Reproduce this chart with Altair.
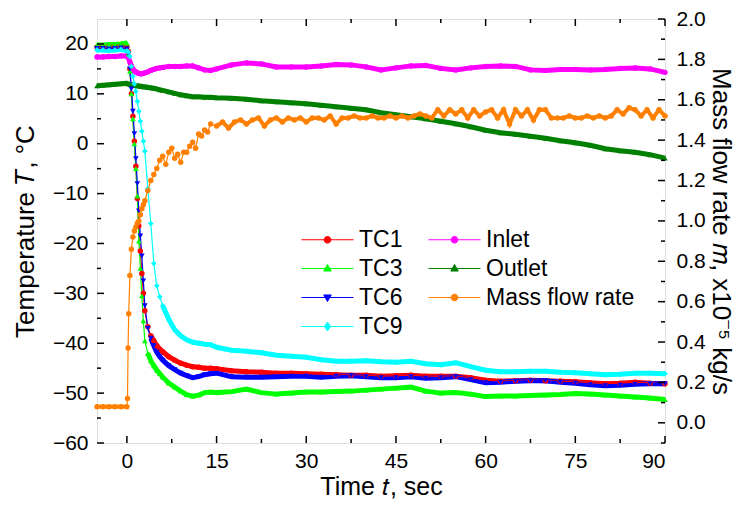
import altair as alt
import pandas as pd

# ---------------- data ----------------
t_grid = [-5, -4, -3, -2, -1, 0, 0.25, 0.5, 0.75, 1, 1.25, 1.5, 1.75, 2, 2.25, 2.5, 2.75, 3,
          3.5, 4, 4.5, 5, 5.5, 6, 7, 8, 9, 10, 11, 12, 13, 14, 15,
          17.5, 20, 22.5, 25, 27.5, 30, 32.5, 35, 37.5, 40, 42.5, 45, 47.5, 50, 52.5, 55,
          57.5, 60, 62.5, 65, 67.5, 70, 72.5, 75, 77.5, 80, 82.5, 85, 87.5, 90]

tc1 = [19.4, 19.4, 19.5, 19.5, 19.6, 19.4, 18.5, 15.0, 10.0, 5.5, 0.5, -4.5, -11.0, -16.5, -21.5, -26.0, -30.0, -33.5,
       -36.7, -38.5, -39.5, -40.5, -41.2, -41.7, -42.7, -43.4, -44.0, -44.4, -44.7, -44.8, -45.0, -45.0, -45.1,
       -45.5, -45.7, -45.8, -46.0, -46.0, -46.1, -46.2, -46.3, -46.4, -46.4, -46.6, -46.5, -46.4, -46.6, -46.6, -46.6,
       -46.9, -47.4, -47.6, -47.5, -47.4, -47.5, -47.6, -47.7, -47.9, -48.1, -48.0, -47.8, -48.0, -48.1]
tc3 = [19.8, 19.8, 19.9, 19.9, 20.0, 20.2, 18.0, 14.5, 10.0, 5.0, 0.0, -5.0, -10.5, -19.5, -25.0, -30.5, -35.5, -39.5,
       -42.0, -43.5, -44.5, -45.4, -46.1, -46.8, -48.0, -48.8, -49.6, -50.3, -50.6, -50.4, -49.9, -49.8, -49.9,
       -49.7, -49.2, -49.9, -50.2, -50.0, -49.8, -49.8, -49.7, -49.6, -49.4, -49.2, -49.0, -48.8, -49.6, -50.0, -49.9,
       -50.2, -50.7, -50.6, -50.6, -50.5, -50.4, -50.3, -50.1, -50.2, -50.4, -50.6, -50.8, -51.0, -51.3]
tc6 = [19.1, 19.1, 19.0, 19.1, 19.2, 19.0, 18.0, 15.0, 11.0, 6.5, 2.0, -3.0, -8.0, -13.5, -18.5, -22.5, -27.5, -32.5,
       -37.0, -39.0, -40.5, -41.8, -42.7, -43.4, -44.5, -45.3, -46.0, -46.5, -46.9, -46.7, -46.3, -46.1, -46.0,
       -46.7, -46.8, -46.8, -46.7, -46.6, -46.6, -46.8, -46.6, -46.5, -46.7, -46.9, -46.9, -46.7, -47.0, -46.9, -46.7,
       -47.3, -47.9, -47.8, -47.6, -47.5, -47.5, -47.8, -48.0, -48.3, -48.5, -48.4, -48.2, -48.1, -48.1]
tc9 = [18.8, 18.8, 18.7, 18.8, 18.9, 18.6, 18.4, 17.5, 15.5, 13.5, 12.0, 10.5, 8.5, 6.5, 4.5, 2.5, 0.5, -1.5,
       -9.0, -16.0, -24.0, -28.5, -30.7, -32.5, -35.2, -37.3, -38.5, -39.3, -39.8, -40.0, -40.2, -40.3, -40.8,
       -41.4, -41.6, -41.9, -42.4, -42.6, -42.8, -43.3, -43.6, -43.6, -43.5, -43.7, -43.8, -43.6, -44.1, -44.3, -43.9,
       -44.7, -45.4, -45.7, -45.7, -45.6, -45.6, -45.8, -45.9, -46.1, -46.3, -46.2, -46.0, -46.0, -46.1]
inlet = [17.4, 17.4, 17.5, 17.5, 17.6, 17.6, 17.2, 16.4, 15.6, 15.0, 14.6, 14.4, 14.2, 14.1, 14.0, 14.0, 14.1, 14.2,
         14.4, 14.7, 14.9, 15.1, 15.2, 15.3, 15.5, 15.5, 15.5, 15.6, 15.6, 15.2, 14.8, 14.7, 15.0,
         15.8, 16.2, 16.0, 15.4, 15.4, 15.4, 15.6, 15.9, 15.8, 15.4, 14.8, 15.2, 15.6, 15.7, 15.1, 14.8,
         15.2, 15.5, 15.6, 15.5, 14.8, 14.7, 14.9, 14.9, 14.8, 14.9, 15.1, 15.2, 15.0, 14.3]
outlet = [11.6, 11.7, 11.8, 11.9, 12.0, 12.1, 12.0, 11.9, 11.8, 11.8, 11.7, 11.7, 11.6, 11.6, 11.5, 11.5, 11.4, 11.4,
          11.3, 11.2, 11.1, 11.0, 10.8, 10.7, 10.4, 10.1, 9.8, 9.6, 9.4, 9.4, 9.3, 9.3, 9.2,
          9.1, 8.9, 8.6, 8.4, 8.2, 8.0, 7.7, 7.4, 7.1, 6.8, 6.2, 5.8, 5.4, 5.0, 4.5, 4.0,
          3.4, 2.7, 2.2, 1.9, 1.5, 1.1, 0.6, 0.2, -0.3, -1.0, -1.4, -1.7, -2.2, -2.9]

mass_t = [-5, -4, -3, -2, -1, 0, 0.1, 0.2, 0.3, 0.5, 0.75, 1, 1.25, 1.5, 1.75, 2, 2.25, 2.5, 2.75, 3,
          3.5, 4, 4.5, 5, 5.5, 6, 6.5, 7, 7.5, 8, 8.5, 9, 9.5, 10, 10.5, 11, 11.5, 12, 12.5, 13, 13.5, 14,
          15, 16, 17, 18, 19, 20, 21, 22, 23, 24, 25, 26, 27, 28, 29, 30, 31, 32, 33, 34, 35, 36, 37, 38,
          39, 40, 41, 42, 43, 44, 45, 46, 47, 48, 49, 50, 51, 52, 53, 54, 55, 56, 57, 58, 59, 60, 61, 62,
          63, 64, 65, 66, 67, 68, 69, 70, 71, 72, 73, 74, 75, 76, 77, 78, 79, 80, 81, 82, 83, 84, 85, 86,
          87, 88, 89, 90]
mass_v = [0.08, 0.08, 0.08, 0.08, 0.08, 0.08, 0.12, 0.37, 0.54, 0.73, 0.86, 0.92, 0.95, 0.97, 0.99, 1.00, 1.03,
          1.06, 1.08, 1.10, 1.15, 1.20, 1.23, 1.26, 1.30, 1.32, 1.28, 1.34, 1.36, 1.31, 1.33, 1.29, 1.34, 1.34,
          1.37, 1.39, 1.36, 1.43, 1.42, 1.45, 1.44, 1.48,
          1.47, 1.49, 1.46, 1.49, 1.50, 1.48, 1.50, 1.51, 1.47, 1.50, 1.51, 1.49, 1.51, 1.50, 1.51, 1.49, 1.51,
          1.51, 1.50, 1.52, 1.48, 1.51, 1.51, 1.52, 1.51, 1.51, 1.52, 1.51, 1.51, 1.52, 1.51, 1.52, 1.51, 1.52,
          1.53, 1.52, 1.51, 1.55, 1.52, 1.55, 1.53, 1.55, 1.51, 1.55, 1.52, 1.54, 1.55, 1.51, 1.55, 1.48, 1.55,
          1.52, 1.55, 1.50, 1.55, 1.55, 1.51, 1.51, 1.51, 1.52, 1.51, 1.51, 1.52, 1.51, 1.52, 1.51, 1.52, 1.55,
          1.53, 1.56, 1.55, 1.52, 1.55, 1.51, 1.55, 1.52]

temp_series = ["TC1", "TC3", "TC6", "TC9", "Inlet", "Outlet"]
temp_values = [tc1, tc3, tc6, tc9, inlet, outlet]
legend_order = ["TC1", "TC3", "TC6", "TC9", "Inlet", "Outlet", "Mass flow rate"]
series_colors = {"TC1": "#FF0000", "TC3": "#00FF00", "TC6": "#0000FF", "TC9": "#00FFFF",
                 "Inlet": "#FF00FF", "Outlet": "#008000", "Mass flow rate": "#FF8000"}

x_major = [0, 15, 30, 45, 60, 75, 90]
x_minor = [7.5, 22.5, 37.5, 52.5, 67.5, 82.5]
yl_major = [-60, -50, -40, -30, -20, -10, 0, 10, 20]
yl_minor = [-55, -45, -35, -25, -15, -5, 5, 15]
yr_major = [0.0, 0.2, 0.4, 0.6, 0.8, 1.0, 1.2, 1.4, 1.6, 1.8, 2.0]
yr_minor = [-0.1, 0.1, 0.3, 0.5, 0.7, 0.9, 1.1, 1.3, 1.5, 1.7, 1.9]

# ---------------- tables ----------------
rows = []
for name, vals in zip(temp_series, temp_values):
    for t, v in zip(t_grid, vals):
        rows.append({"t": t, "v": v, "series": name})
df = pd.DataFrame(rows)
dfm = pd.DataFrame({"t": mass_t, "m": mass_v, "series": "Mass flow rate"})
df_leg = pd.DataFrame({"series": legend_order})

# ---------------- style ----------------
W, H = 568, 424
FONT = "Liberation Sans"
xs = alt.Scale(domain=[-5, 90], nice=False, zero=False)
yl = alt.Scale(domain=[-60, 25], nice=False, zero=False)
yr = alt.Scale(domain=[-0.1, 2.0], nice=False, zero=False)
color_scale = alt.Scale(domain=legend_order, range=[series_colors[s] for s in legend_order])

leg_paths = {
    "circle": "M-3.25,0H3.25M0.42,0A0.42,0.42,0,1,1,-0.42,0A0.42,0.42,0,1,1,0.42,0Z",
    "up": "M-3.25,0H3.25M0,-0.5L0.47,0.32L-0.47,0.32Z",
    "down": "M-3.25,0H3.25M0,0.5L0.47,-0.32L-0.47,-0.32Z",
    "diamond": "M-3.25,0H3.25M0,-0.55L0.38,0L0,0.55L-0.38,0Z",
}
leg_shape_of = {"TC1": "circle", "Inlet": "circle", "TC3": "up", "Outlet": "up",
                "TC6": "down", "Mass flow rate": "circle", "TC9": "diamond"}
shape_scale = alt.Scale(domain=legend_order, range=[leg_paths[leg_shape_of[s]] for s in legend_order])

legend = alt.Legend(orient="none", legendX=219, legendY=209, columns=2, title=None,
                    symbolSize=256, symbolStrokeWidth=1, labelFont=FONT, labelFontSize=23,
                    labelColor="black", rowPadding=5, columnPadding=23, labelOffset=20,
                    padding=0, labelLimit=300)

x_axis = alt.Axis(values=x_major, ticks=False, domain=False, grid=False, labelFont=FONT,
                  labelFontSize=21, labelColor="black", labelPadding=7, title="Time 𝑡, sec",
                  titleFont=FONT, titleFontSize=25, titleFontWeight="normal", titleColor="black",
                  titlePadding=3)
yl_axis = alt.Axis(orient="left", values=yl_major, ticks=False, domain=False, grid=False,
                   labelFont=FONT, labelFontSize=21, labelColor="black", labelPadding=9,
                   title="Temperature 𝑇, °C", titleFont=FONT, titleFontSize=26,
                   titleFontWeight="normal", titleColor="black", titlePadding=14)
yr_axis = alt.Axis(orient="right", values=yr_major, format=".1f", ticks=False, domain=False,
                   grid=False, labelFont=FONT, labelFontSize=21, labelColor="black",
                   labelPadding=11, title="Mass flow rate 𝑚, x10⁻⁵ kg/s", titleFont=FONT,
                   titleFontSize=26, titleFontWeight="normal", titleColor="black", titlePadding=2)

thr_expr = ("datum.series == 'TC1' ? 4 : datum.series == 'TC3' ? 3.5 : "
            "datum.series == 'TC6' ? 4 : datum.series == 'TC9' ? 6 : -99")

X = alt.X("t:Q", scale=xs, axis=x_axis)
YL = alt.Y("v:Q", scale=yl, axis=yl_axis)
YR = alt.Y("m:Q", scale=yr, axis=yr_axis)

base = alt.Chart(df).encode(
    x=X, y=YL,
    color=alt.Color("series:N", scale=color_scale, legend=legend),
)
thick = base.transform_calculate(thr=thr_expr).transform_filter(
    "datum.t <= 0 || datum.t >= datum.thr").transform_calculate(
    seg="datum.t >= datum.thr ? 'b' : 'a'").mark_line(strokeWidth=5).encode(detail="seg:N")
thin = base.mark_line(strokeWidth=1.2)


def pts(names, shape, size=30):
    return base.transform_filter(alt.FieldOneOfPredicate(field="series", oneOf=names)).mark_point(
        shape=shape, filled=True, size=size, opacity=1, strokeWidth=0)


p_circ = pts(["TC1", "Inlet"], "circle")
p_up = pts(["TC3", "Outlet"], "triangle-up", 32)
p_down = pts(["TC6"], "triangle-down", 32)
p_dia = pts(["TC9"], "diamond", 32)

leg_layer = alt.Chart(df_leg).transform_filter("datum.series == 'none'").mark_point(
    filled=True, opacity=1, strokeWidth=1).encode(
    color=alt.Color("series:N", scale=color_scale, legend=legend),
    stroke=alt.Stroke("series:N", scale=color_scale, legend=legend),
    shape=alt.Shape("series:N", scale=shape_scale, legend=legend),
)

ticks = []
for vals, ln in [(x_major, 7), (x_minor, 4)]:
    ticks.append(alt.Chart(pd.DataFrame({"t": vals})).mark_rule(color="black", strokeWidth=1.5).encode(
        x=X, y=alt.value(H), y2=alt.value(H - ln)))
    ticks.append(alt.Chart(pd.DataFrame({"t": vals})).mark_rule(color="black", strokeWidth=1.5).encode(
        x=X, y=alt.value(0), y2=alt.value(ln)))
for vals, ln in [(yl_major, 7), (yl_minor, 4)]:
    ticks.append(alt.Chart(pd.DataFrame({"v": vals})).mark_rule(color="black", strokeWidth=1.5).encode(
        y=YL, x=alt.value(0), x2=alt.value(ln)))
rticks = []
for vals, ln in [(yr_major, 7), (yr_minor, 4)]:
    rticks.append(alt.Chart(pd.DataFrame({"m": vals})).mark_rule(color="black", strokeWidth=1.5).encode(
        y=YR, x=alt.value(W), x2=alt.value(W - ln)))

left = alt.layer(thick, thin, p_circ, p_up, p_down, p_dia, leg_layer, *ticks)

mbase = alt.Chart(dfm).encode(x=X, y=YR)
m_thick = mbase.transform_filter("datum.t <= 0 || datum.t >= 15").transform_calculate(
    seg="datum.t <= 0 ? 'a' : 'b'").mark_line(strokeWidth=4, color="#FF8000").encode(detail="seg:N")
m_thin = mbase.mark_line(strokeWidth=1.2, color="#FF8000")
m_pts = mbase.mark_point(shape="circle", filled=True, size=30, opacity=1, color="#FF8000", strokeWidth=0)
right = alt.layer(m_thick, m_thin, m_pts, *rticks)

chart = alt.layer(left, right).resolve_scale(y="independent").properties(
    width=W, height=H,
    autosize=alt.AutoSizeParams(type="none"),
    padding={"left": 89, "top": 11, "right": 73, "bottom": 58},
).configure_view(stroke="black", strokeWidth=1.6).configure(background="white")

chart.save("out.html", embed_options={"renderer": "svg", "actions": False})
